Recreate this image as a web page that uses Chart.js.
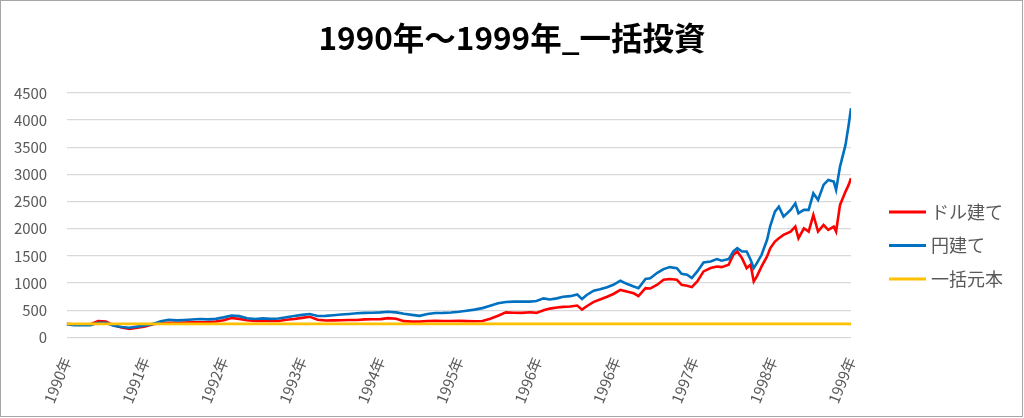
<!DOCTYPE html>
<html lang="ja">
<head>
<meta charset="utf-8">
<title>1990年～1999年_一括投資</title>
<script src="https://cdn.jsdelivr.net/npm/chart.js@4.4.1/dist/chart.umd.min.js"></script>
<style>
    html, body { margin: 0; padding: 0; background: #ffffff; }
    #wrap { position: relative; width: 1024px; height: 418px; }
    #frame {
        position: absolute; left: 0; top: 0;
        width: 1021px; height: 415px;
        border: 1px solid #a6a6a6;
        pointer-events: none;
    }
</style>
</head>
<body>
<div id="wrap">
    <canvas id="investChart" width="1024" height="418"></canvas>
    <div id="frame"></div>
</div>
<script>
// Etiquetas del eje X (posiciones 0..10)
const tickLabels = ['1990年', '1991年', '1992年', '1993年', '1994年', '1995年', '1996年', '1996年', '1997年', '1998年', '1999年'];

const seriesNames = ['ドル建て', '円建て', '一括元本'];

// Posición de cada muestra en el eje X (0 = 1990年, 10 = 1999年)
const sampleYears = [
    0.0, 0.1, 0.2, 0.3, 0.4, 0.5, 0.6, 0.7, 0.8, 0.9,
    1.0, 1.1, 1.2, 1.3, 1.4, 1.5, 1.6, 1.7, 1.8, 1.9,
    2.0, 2.1, 2.2, 2.3, 2.4, 2.5, 2.6, 2.7, 2.8, 2.9,
    3.0, 3.1, 3.2, 3.3, 3.4, 3.5, 3.6, 3.7, 3.8, 3.9,
    4.0, 4.1, 4.2, 4.3, 4.4, 4.5, 4.6, 4.7, 4.8, 4.9,
    5.0, 5.1, 5.2, 5.3, 5.4, 5.5, 5.6, 5.7, 5.8,
    5.91, 5.99, 6.08, 6.16, 6.25, 6.33, 6.42, 6.51, 6.57, 6.63,
    6.72, 6.80, 6.89, 6.97, 7.06, 7.14, 7.23, 7.29, 7.38, 7.44,
    7.53, 7.61, 7.69, 7.78, 7.84, 7.91, 7.97, 8.04, 8.12, 8.21,
    8.29, 8.35, 8.44, 8.50, 8.55, 8.61, 8.67, 8.72, 8.76, 8.80,
    8.86, 8.93, 8.97, 9.03, 9.08, 9.14, 9.23, 9.29, 9.33, 9.40,
    9.46, 9.52, 9.58, 9.65, 9.71, 9.78, 9.81, 9.86, 9.93, 9.97,
    10.0
];

// ドル建て
const dollarValues = [
    250, 240, 242, 238, 300, 292, 222, 182, 158, 178,
    202, 245, 262, 270, 272, 276, 278, 280, 285, 295,
    318, 358, 342, 318, 302, 306, 302, 304, 325, 340,
    360, 380, 325, 312, 314, 318, 320, 322, 332, 334,
    338, 356, 345, 300, 292, 292, 302, 305, 304, 302,
    305, 300, 298, 302, 345, 400, 462, 455, 452,
    465, 452, 500, 531, 550, 562, 570, 587, 512, 575,
    656, 700, 750, 800, 875, 844, 812, 762, 906, 900,
    970, 1061, 1074, 1061, 969, 951, 926, 1031, 1215, 1276,
    1306, 1294, 1337, 1521, 1582, 1460, 1276, 1337, 1031, 1123,
    1306, 1490, 1640, 1764, 1825, 1886, 1948, 2039, 1825, 2008,
    1948, 2254, 1948, 2070, 1978, 2039, 1948, 2438, 2683, 2806,
    2928
];

// 円建て
const yenValues = [
    240, 228, 232, 226, 268, 272, 215, 192, 180, 200,
    222, 250, 298, 325, 315, 322, 332, 340, 333, 342,
    370, 405, 392, 355, 340, 352, 342, 348, 372, 395,
    415, 432, 395, 398, 410, 422, 432, 445, 452, 456,
    462, 472, 462, 435, 415, 398, 432, 450, 452, 458,
    472, 492, 512, 540, 585, 630, 652, 660, 662,
    660, 670, 719, 700, 719, 750, 760, 790, 706, 781,
    862, 887, 925, 969, 1044, 987, 937, 906, 1075, 1090,
    1190, 1257, 1294, 1276, 1172, 1153, 1092, 1215, 1380, 1398,
    1441, 1411, 1441, 1582, 1644, 1582, 1582, 1429, 1276, 1368,
    1521, 1797, 2050, 2315, 2407, 2223, 2346, 2468, 2285, 2346,
    2346, 2652, 2530, 2806, 2898, 2867, 2714, 3143, 3541, 3909,
    4216
];

// 一括元本 (constante)
const principalYears = [0, 10];
const principalValues = [250, 250];

const yTicks = [0, 500, 1000, 1500, 2000, 2500, 3000, 3500, 4000, 4500];

const Colors = {
    dollar: '#FF0000',
    yen: '#0070C0',
    principal: '#FFC000',
    text: '#595959',
    grid: '#D9D9D9'
};

const FONT = '"Noto Sans CJK JP", "Noto Sans", sans-serif';

function toPoints(xs, ys) {
    return xs.map((x, i) => ({ x: x, y: ys[i] }));
}

function createLineDataset(label, data, color, order) {
    return {
        label: label,
        data: data,
        borderColor: color,
        backgroundColor: color,
        borderWidth: 2.6,
        pointRadius: 0,
        tension: 0,
        fill: false,
        order: order,
        yAxisID: 'y'
    };
}

// Leyenda a la derecha (estilo Excel)
const rightLegend = {
    id: 'rightLegend',
    afterDraw(chart) {
        const ctx = chart.ctx;
        ctx.save();
        ctx.font = '18px ' + FONT;
        ctx.textBaseline = 'middle';
        ctx.textAlign = 'left';
        chart.data.datasets.forEach((ds, i) => {
            const y = 212 + i * 33.5;
            ctx.strokeStyle = ds.borderColor;
            ctx.lineWidth = 3;
            ctx.beginPath();
            ctx.moveTo(889, y);
            ctx.lineTo(926, y);
            ctx.stroke();
            ctx.fillStyle = Colors.text;
            ctx.fillText(ds.label, 931, y);
        });
        ctx.restore();
    }
};

const chart = new Chart(document.getElementById('investChart'), {
    type: 'line',
    data: {
        datasets: [
            createLineDataset(seriesNames[0], toPoints(sampleYears, dollarValues), Colors.dollar, 2),
            createLineDataset(seriesNames[1], toPoints(sampleYears, yenValues), Colors.yen, 1),
            createLineDataset(seriesNames[2], toPoints(principalYears, principalValues), Colors.principal, 0)
        ]
    },
    options: {
        responsive: false,
        animation: false,
        layout: {
            padding: { left: 0, right: 0, top: 0, bottom: 3 }
        },
        plugins: {
            legend: { display: false },
            tooltip: { enabled: false },
            title: {
                display: true,
                text: '1990年～1999年_一括投資',
                color: '#000000',
                font: { family: FONT, size: 31.5, weight: 'bold' },
                padding: { top: 19, bottom: 36 }
            }
        },
        scales: {
            x: {
                type: 'linear',
                min: 0,
                max: 10,
                grid: { display: false },
                border: { display: false },
                ticks: {
                    stepSize: 1,
                    autoSkip: false,
                    minRotation: 68,
                    maxRotation: 68,
                    padding: 9,
                    color: Colors.text,
                    font: { family: FONT, size: 15 },
                    callback: value => tickLabels[value]
                },
                afterFit: function(scale) {
                    scale.paddingLeft = 0;
                    scale.paddingRight = 0;
                }
            },
            y: {
                min: 0,
                max: 4500,
                afterBuildTicks: function(scale) {
                    scale.ticks = yTicks.map(v => ({ value: v }));
                },
                afterFit: function(scale) {
                    scale.width = 66.7;
                },
                grid: { color: Colors.grid, lineWidth: 1.3, drawTicks: false },
                border: { display: false },
                ticks: {
                    padding: 19.5,
                    color: Colors.text,
                    font: { family: FONT, size: 15 },
                    callback: value => String(value)
                }
            },
            // espacio reservado para la leyenda
            legendSpace: {
                position: 'right',
                display: true,
                grid: { display: false },
                border: { display: false },
                ticks: { display: false },
                afterFit: function(scale) {
                    scale.width = 173;
                }
            }
        }
    },
    plugins: [rightLegend]
});

console.log('chartArea', JSON.stringify(chart.chartArea));
</script>
</body>
</html>
